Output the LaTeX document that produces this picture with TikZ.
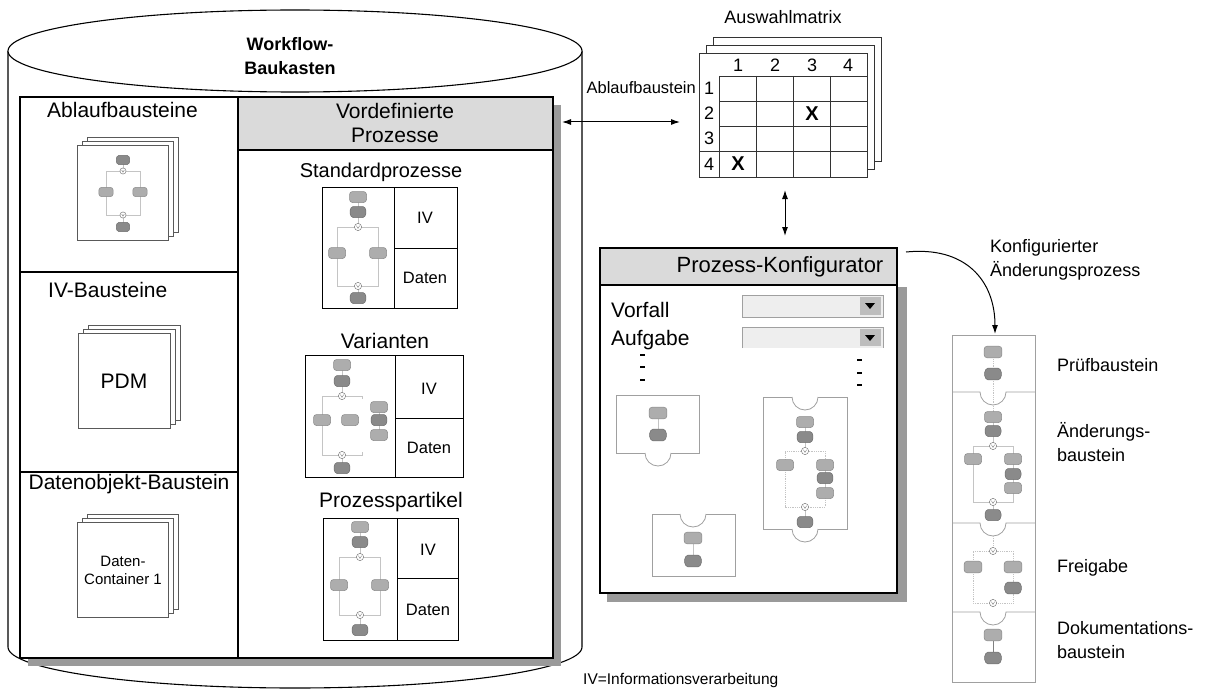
\documentclass[tikz,border=0pt]{standalone}
\usepackage{fontspec}
\setmainfont{Liberation Sans}
\usetikzlibrary{arrows.meta}
\definecolor{lightg}{HTML}{ADADAD}
\definecolor{darkg}{HTML}{8A8A8A}
\definecolor{linkg}{HTML}{C4C4C4}
\definecolor{hdr}{HTML}{DADADA}
\definecolor{shad}{HTML}{9A9A9A}
\definecolor{subg}{HTML}{A0A0A0}
\definecolor{ddfill}{HTML}{EEEEEE}
\definecolor{ddbtn}{HTML}{BDBDBD}
\newcommand\mLB[3][1]{\draw[lb,shift={(#2,#3)},scale=#1] (-8.5,-5.5) rectangle (8.5,5.5);}
\newcommand\mDB[3][1]{\draw[db,shift={(#2,#3)},scale=#1] (-8.5,0) -- (-6.5,-5.5) -- (6.5,-5.5) -- (8.5,0) -- (6.5,5.5) -- (-6.5,5.5) -- cycle;}
\newcommand\mCI[3][1]{\draw[ci,shift={(#2,#3)},scale=#1] (0,0) circle (3.6);\draw[civ,shift={(#2,#3)},scale=#1] (-1.6,-1.2) -- (0,1.4) -- (1.6,-1.2);}
\newcommand\mStack[4]{%
  \draw[card] (#1+10,#2-8) rectangle (#3+10,#4-8);
  \draw[card] (#1+5,#2-4) rectangle (#3+5,#4-4);
  \draw[card] (#1,#2) rectangle (#3,#4);}
\newcommand\mSep[1]{\draw[sub] (952,#1) -- (980,#1) arc[start angle=180,end angle=0,radius=13] -- (1035,#1);}
\begin{document}
\begin{tikzpicture}[x=1pt,y=-1pt,
  lab/.style={font=\fontsize{21}{24}\selectfont, inner sep=0pt},
  labm/.style={font=\fontsize{18}{24}\selectfont, inner sep=0pt},
  labiv/.style={font=\fontsize{16.5}{20}\selectfont, inner sep=0pt},
  labxs/.style={font=\fontsize{15}{18}\selectfont, inner sep=0pt, align=center},
  frame/.style={draw=black, line width=1.4pt},
  card/.style={draw=black!65, fill=white, line width=0.9pt},
  lb/.style={fill=lightg, draw=lightg!80!black, line width=0.5pt, rounded corners=3pt},
  db/.style={fill=darkg, draw=darkg!80!black, line width=0.5pt, rounded corners=1.5pt},
  ci/.style={fill=white, draw=gray, line width=0.5pt},
  civ/.style={draw=gray, line width=0.4pt},
  lk/.style={draw=linkg, line width=0.8pt},
  lkd/.style={draw=linkg, line width=0.8pt, densely dotted},
  sub/.style={draw=subg, line width=0.8pt},
  grid/.style={draw=black!80, line width=0.9pt},
  dbl/.style={{Latex[length=9pt,width=6pt]}-{Latex[length=9pt,width=6pt]}, line width=1pt}
]
\useasboundingbox (0,0) rectangle (1228,690);

% ---------------- cylinder ----------------
\draw[line width=1.1pt, fill=white] (8,51) -- (8,647) arc[start angle=180,end angle=0,x radius=287,y radius=41] -- (582,51);
\draw[line width=1.1pt, fill=white] (295,51) ellipse [x radius=287, y radius=41];
\node[font=\bfseries\fontsize{18}{24}\selectfont, align=center, inner sep=0pt] (tWF) at (290,56) {Workflow-\\Baukasten};

% inner box with shadow
\fill[shad] (28,105) rectangle (561,666);
\fill[white] (20,97) rectangle (553,658);
\fill[hdr] (238,97) rectangle (553,150);
\draw[line width=1.1pt] (238,97) -- (238,658);
\draw[line width=1.1pt] (238,150) -- (553,150);
\draw[line width=1.1pt] (20,272) -- (238,272);
\draw[line width=1.1pt] (20,472) -- (238,472);
\draw[frame] (20,97) rectangle (553,658);

% left column
\node[lab, anchor=west] (tAb) at (47,110) {Ablaufbausteine};
\mStack{77}{145}{168}{240}
\draw[lk] (123,160) -- (123,171);
\draw[lk] (106,192) -- (106,171) -- (140,171) -- (140,192);
\draw[lk] (106,192) -- (106,215) -- (140,215) -- (140,192);
\draw[lk] (123,215) -- (123,227);
\mDB[.85]{123}{160} \mCI[.85]{123}{171} \mLB[.85]{106}{192} \mLB[.85]{140}{192} \mCI[.85]{123}{215} \mDB[.85]{123}{227}

\node[lab, anchor=west] (tIVB) at (48,290) {IV-Bausteine};
\mStack{78}{333}{170}{428}
\node[lab] (tPDM) at (124,381) {PDM};

\node[lab] (tDO) at (129,484) {Datenobjekt-Baustein};
\mStack{77}{522}{168}{617}
\node[labxs] (tDC) at (123,570) {Daten-\\Container 1};

% right column
\node[lab, align=center, font=\fontsize{21}{24}\selectfont] (tVP) at (395,123) {Vordefinierte\\Prozesse};

\node[lab, font=\fontsize{20}{24}\selectfont] (tSP) at (381,172) {Standardprozesse};
\draw[line width=1pt] (322,187) rectangle (457,308);
\draw[line width=1pt] (394,187) -- (394,308);
\draw[line width=1pt] (394,248) -- (457,248);
\node[labiv] (tSPiv) at (425,218) {IV};
\node[labiv] (tSPd) at (425,278) {Daten};
\draw[lk] (358,197) -- (358,227);
\draw[lk] (337,253) -- (337,227) -- (378,227) -- (378,253);
\draw[lk] (337,253) -- (337,286) -- (378,286) -- (378,253);
\draw[lk] (358,286) -- (358,298);
\mLB{358}{197} \mDB{358}{212} \mCI{358}{227} \mLB{337}{253} \mLB{378}{253} \mCI{358}{286} \mDB{358}{298}

\node[lab] (tVa) at (385,341) {Varianten};
\draw[line width=1pt] (305,355) rectangle (463,477);
\draw[line width=1pt] (395,355) -- (395,477);
\draw[line width=1pt] (395,418) -- (463,418);
\node[labiv] (tVaiv) at (429,389) {IV};
\node[labiv] (tVad) at (429,448) {Daten};
\draw[lk] (342,365) -- (342,396);
\draw[lk] (362,399) -- (362,396) -- (322,396) -- (322,455) -- (362,455) -- (362,452);
\draw[lk] (342,455) -- (342,468);
\draw[lk] (379,407) -- (379,435);
\mLB{342}{365} \mDB{342}{381} \mCI{342}{396} \mLB{322}{420} \mLB{350}{420}
\mLB{379}{407} \mDB{379}{420} \mLB{379}{435} \mCI{342}{455} \mDB{342}{468}

\node[lab] (tPP) at (391,502) {Prozesspartikel};
\draw[line width=1pt] (323,518) rectangle (458,640);
\draw[line width=1pt] (397,518) -- (397,640);
\draw[line width=1pt] (397,578) -- (458,578);
\node[labiv] (tPPiv) at (428,550) {IV};
\node[labiv] (tPPd) at (428,610) {Daten};
\draw[lk] (360,527) -- (360,557);
\draw[lk] (339,585) -- (339,557) -- (380,557) -- (380,585);
\draw[lk] (339,585) -- (339,615) -- (380,615) -- (380,585);
\draw[lk] (360,615) -- (360,630);
\mLB{360}{527} \mDB{360}{542} \mCI{360}{557} \mLB{339}{585} \mLB{380}{585} \mCI{360}{615} \mDB{360}{630}

\node[font=\fontsize{15.5}{18}\selectfont, inner sep=0pt, anchor=west] (tIV) at (583,680) {IV=Informationsverarbeitung};

% ---------------- Auswahlmatrix ----------------
\node[labm] (tAM) at (783,17) {Auswahlmatrix};
\draw[grid, fill=white] (713,37) rectangle (881,161);
\draw[grid, fill=white] (706,45) rectangle (874,169);
\draw[grid, fill=white] (699,53) rectangle (867,177);
\foreach \xx in {719,756,793,830} \draw[grid] (\xx,76) -- (\xx,177);
\foreach \yy in {76,101,126} \draw[grid] (719,\yy) -- (867,\yy);
\draw[grid] (699,151) -- (867,151);
\foreach \n/\xx in {1/738,2/775,3/812,4/848} \node[labm] (mc\n) at (\xx,65) {\n};
\foreach \n/\yy in {1/88,2/113,3/138,4/164} \node[labm] (mr\n) at (709,\yy) {\n};
\node[font=\bfseries\fontsize{20}{24}\selectfont, inner sep=0pt] (mx1) at (812,114) {X};
\node[font=\bfseries\fontsize{20}{24}\selectfont, inner sep=0pt] (mx2) at (738,164) {X};
\node[font=\fontsize{16.5}{20}\selectfont, inner sep=0pt, anchor=east] (tAbl) at (696,88) {Ablaufbaustein};
\coordinate (ha1) at (562,122);
\coordinate (ha2) at (680,122);
\draw[dbl] (ha1) -- (ha2);
\coordinate (va1) at (785,190);
\coordinate (va2) at (785,236);
\draw[dbl] (va1) -- (va2);

% ---------------- Prozess-Konfigurator ----------------
\fill[shad] (607,287) rectangle (907,602);
\fill[white] (600,248) rectangle (897,593);
\fill[hdr] (600,248) rectangle (897,285);
\draw[line width=1.1pt] (600,285) -- (897,285);
\draw[line width=1.5pt] (600,248) rectangle (897,593);
\node[lab, font=\fontsize{22}{24}\selectfont] (tPK) at (780,267) {Prozess-Konfigurator};
\node[lab, anchor=west] (tVo) at (611,310) {Vorfall};
\node[lab, anchor=west] (tAu) at (611,340) {Aufgabe};
\draw[sub, fill=ddfill] (742,295) rectangle (883,317);
\fill[ddbtn] (860,297) rectangle (881,315);
\fill[black] (865,303) -- (875,303) -- (870,309) -- cycle;
\fill[ddfill] (742,327) rectangle (883,348);
\draw[sub] (742,348) -- (742,327) -- (883,327) -- (883,348);
\fill[ddbtn] (860,329) rectangle (881,346);
\fill[black] (865,335) -- (875,335) -- (870,341) -- cycle;
\foreach \yy in {355,367,380} \fill[black] (640,\yy-1.2) rectangle (645,\yy+1.2);
\foreach \yy in {360,373,385} \fill[black] (857,\yy-1.2) rectangle (862,\yy+1.2);

% sub box 1
\draw[sub] (645,453) -- (616,453) -- (616,395) -- (699,395) -- (699,453) -- (671,453);
\draw[sub] (645,453) arc[start angle=180,end angle=0,radius=13];
\draw[lk] (658,413) -- (658,435);
\mLB[1.05]{658}{413} \mDB[1.05]{658}{435}
% sub box 2
\draw[sub] (680,514) -- (652,514) -- (652,576) -- (735,576) -- (735,514) -- (706,514);
\draw[sub] (680,514) arc[start angle=180,end angle=0,radius=13];
\draw[lk] (693,538) -- (693,561);
\mLB[1.05]{693}{538} \mDB[1.05]{693}{561}
% sub box 3
\draw[sub] (792,397) -- (763,397) -- (763,529) -- (792,529);
\draw[sub] (818,529) -- (847,529) -- (847,397) -- (818,397);
\draw[sub] (792,397) arc[start angle=180,end angle=0,radius=13];
\draw[sub] (792,529) arc[start angle=180,end angle=0,radius=13];
\draw[lk] (805,422) -- (805,451);
\draw[lkd] (785,465) -- (785,451) -- (825,451) -- (825,465);
\draw[lkd] (785,465) -- (785,507) -- (825,507) -- (825,493);
\draw[lk] (825,465) -- (825,493);
\draw[lk] (805,507) -- (805,522);
\mLB{805}{422} \mDB{805}{437} \mCI{805}{451} \mLB{785}{465}
\mLB{825}{465} \mDB{825}{478} \mLB{825}{493} \mCI{805}{507} \mDB{805}{522}

% ---------------- right stack ----------------
\node[labm, anchor=west, align=left] (tKA) at (990,260) {Konfigurierter\\Änderungsprozess};
\coordinate (ca1) at (906,252);
\coordinate (ca2) at (995,334);
\draw[line width=1pt, -{Latex[length=9pt,width=6pt]}] (ca1) .. controls (965,246) and (995,280) .. (ca2);

\draw[sub] (952,335) rectangle (1035,682);
\mSep{392} \mSep{523} \mSep{612}
% seg 1
\draw[lkd] (993,352) -- (993,417);
\mLB[1.05]{993}{352} \mDB[1.05]{993}{374}
% seg 2
\draw[lk] (993,417) -- (993,446);
\draw[lk] (973,459) -- (973,446) -- (1013,446) -- (1013,488);
\draw[lk] (973,459) -- (973,502) -- (1013,502) -- (1013,488);
\draw[lk] (993,502) -- (993,515);
\mLB{993}{417} \mDB{993}{431} \mCI{993}{446} \mLB{973}{459}
\mLB{1013}{459} \mDB{1013}{474} \mLB{1013}{488} \mCI{993}{502} \mDB{993}{515}
% seg 3
\draw[lkd] (993,536) -- (993,551);
\draw[lkd] (973,567) -- (973,551) -- (1013,551) -- (1013,588);
\draw[lkd] (973,567) -- (973,603) -- (1013,603) -- (1013,588);
\mCI{993}{551} \mLB[1.05]{973}{567} \mLB[1.05]{1013}{567} \mDB[1.05]{1013}{588} \mCI{993}{603}
% seg 4
\draw[draw=gray, line width=0.8pt] (993,635) -- (993,658);
\mLB[1.05]{993}{635} \mDB[1.05]{993}{658}

\node[labm, anchor=west] (tPB) at (1057,365) {Prüfbaustein};
\node[labm, anchor=west, align=left] (tAeB) at (1057,442) {Änderungs-\\baustein};
\node[labm, anchor=west] (tFG) at (1057,568) {Freigabe};
\node[labm, anchor=west, align=left] (tDB) at (1057,640) {Dokumentations-\\baustein};
\end{tikzpicture}
\end{document}
